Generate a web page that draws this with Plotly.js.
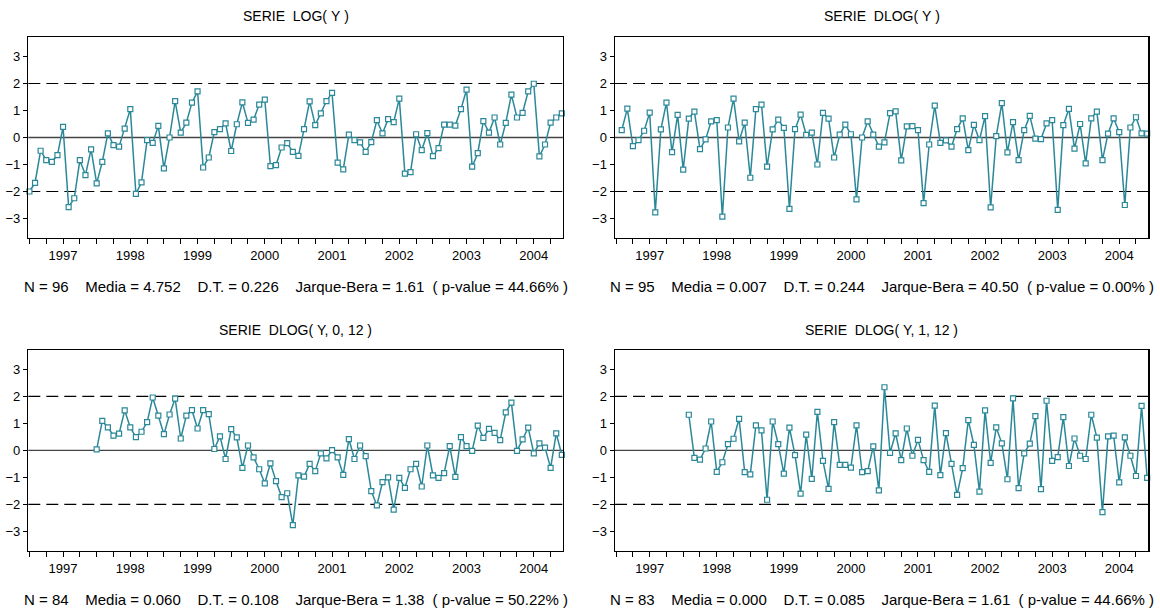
<!DOCTYPE html>
<html><head><meta charset="utf-8">
<script src="https://cdn.plot.ly/plotly-3.0.1.min.js"></script>
<style>html,body{margin:0;padding:0;background:#fff}#chart{width:1160px;height:613px}</style>
</head><body><div id="chart"></div>
<script>
// ---- data ----
const years = ['1997','1998','1999','2000','2001','2002','2003','2004'];
const titles = ['SERIE  LOG( Y )','SERIE  DLOG( Y )','SERIE  DLOG( Y, 0, 12 )','SERIE  DLOG( Y, 1, 12 )'];
// first observation of each series, in months since Jan 1997
const startMonth = [0, 1, 12, 13];

const logY = [-2.00,-1.68,-0.49,-0.84,-0.90,-0.65,0.39,-2.58,-2.25,-0.84,-1.39,-0.44,
  -1.70,-0.90,0.15,-0.28,-0.34,0.33,1.05,-2.09,-1.66,-0.10,-0.20,0.43,
  -1.14,0.00,1.35,0.18,0.55,1.29,1.71,-1.11,-0.74,0.20,0.31,0.52,
  -0.50,0.49,1.30,0.54,0.66,1.22,1.40,-1.06,-1.02,-0.37,-0.21,-0.53,
  -0.68,0.31,1.34,0.46,0.89,1.35,1.65,-0.93,-1.18,0.11,-0.10,-0.18,
  -0.53,-0.17,0.64,0.15,0.68,0.57,1.44,-1.34,-1.28,0.12,-0.47,0.16,
  -0.69,-0.39,0.48,0.48,0.44,1.05,1.77,-1.08,-0.58,0.61,0.18,0.74,
  -0.26,0.54,1.59,0.74,0.91,1.71,1.99,-0.70,-0.26,0.55,0.74,0.89];

const dlogY = [0.27,1.07,-0.32,-0.10,0.25,0.92,-2.77,0.30,1.29,-0.54,0.84,
  -1.19,0.70,0.96,-0.43,-0.07,0.60,0.64,-2.93,0.37,1.44,-0.14,0.55,
  -1.49,1.05,1.22,-1.08,0.30,0.66,0.36,-2.64,0.31,0.85,0.10,0.18,
  -1.00,0.91,0.70,-0.74,0.11,0.48,0.12,-2.29,0.00,0.60,0.11,-0.34,
  -0.18,0.90,0.97,-0.85,0.41,0.42,0.27,-2.43,-0.26,1.18,-0.20,-0.11,
  -0.34,0.31,0.71,-0.47,0.47,-0.10,0.79,-2.59,0.05,1.27,-0.55,0.57,
  -0.84,0.27,0.80,-0.04,-0.06,0.52,0.64,-2.68,0.46,1.06,-0.41,0.50,
  -0.96,0.71,0.96,-0.84,0.14,0.71,0.20,-2.50,0.37,0.75,0.15,0.14];

const dlogY012 = [0.04,1.09,0.85,0.55,0.62,1.48,0.85,0.49,0.69,1.05,1.96,1.29,
  0.60,1.33,1.92,0.44,1.29,1.49,0.81,1.49,1.34,0.05,0.52,-0.32,
  0.79,0.48,-0.65,0.18,-0.26,-0.70,-1.22,-0.48,-1.14,-1.73,-1.59,-2.77,
  -0.93,-0.97,-0.50,-0.77,-0.11,-0.30,0.01,-0.26,-0.91,0.42,-0.32,0.18,
  -0.21,-1.51,-2.04,-1.18,-1.00,-2.20,-1.02,-1.39,-0.70,-0.50,-1.34,0.18,
  -0.93,-1.02,-0.84,0.16,-0.98,0.49,0.16,-0.02,0.92,0.46,0.80,0.65,
  0.38,1.41,1.77,-0.02,0.41,0.84,-0.11,0.26,0.10,-0.65,0.63,-0.17];

const dlogY112 = [1.32,-0.28,-0.34,0.07,1.07,-0.80,-0.44,0.23,0.43,1.17,-0.81,
  -0.89,0.93,0.74,-1.83,1.07,0.23,-0.86,0.84,-0.18,-1.60,0.58,-1.06,
  1.43,-0.39,-1.43,1.05,-0.54,-0.54,-0.64,0.93,-0.81,-0.77,0.15,-1.48,
  2.34,-0.09,0.63,-0.36,0.81,-0.20,0.39,-0.36,-0.80,1.66,-0.92,0.64,
  -0.50,-1.65,-0.66,1.12,0.20,-1.53,1.48,-0.46,0.85,0.26,-1.07,1.93,
  -1.40,-0.11,0.25,1.27,-1.44,1.84,-0.39,-0.25,1.23,-0.58,0.44,-0.20,
  -0.32,1.32,0.47,-2.29,0.52,0.55,-1.19,0.48,-0.20,-0.95,1.65,-1.02];

const statN = ['96','95','84','83'];
const statMedia = ['4.752','0.007','0.060','0.000'];
const statDT = ['0.226','0.244','0.108','0.085'];
const statJB = ['1.61','40.50','1.38','1.61'];
const statP = ['44.66','0.00','50.22','44.66'];

const series = [logY, dlogY, dlogY012, dlogY112];

// ---- layout helpers ----
const FONT = '"Liberation Sans", Arial, Helvetica, sans-serif';
const xDom = [[0.0244,0.4853],[0.5302,0.9899],[0.0244,0.4853],[0.5302,0.9899]];
const yDom = [[0.6118,0.9396],[0.6118,0.9396],[0.1016,0.4290],[0.1016,0.4290]];
const nMonths = years.length * 12;
const qTicks = [];
for (let m = 0; m < nMonths; m += 3) qTicks.push(m);
const qText = qTicks.map(m => (m % 12 === 6) ? years[(m - 6) / 12] : '');
const nb = s => s.replace(/ /g, '\u00a0');

const traces = [];
const layout = {
  width: 1160, height: 613,
  margin: {l: 0, r: 0, t: 0, b: 0},
  paper_bgcolor: '#fff', plot_bgcolor: '#fff',
  showlegend: false,
  font: {family: FONT, size: 13, color: '#000'},
  shapes: [], annotations: []
};

series.forEach((vals, k) => {
  const sx = k === 0 ? '' : String(k + 1);
  traces.push({
    type: 'scatter', mode: 'lines+markers',
    x: vals.map((_, i) => startMonth[k] + i), y: vals,
    xaxis: 'x' + sx, yaxis: 'y' + sx,
    line: {color: '#2a8899', width: 1.5},
    marker: {symbol: 'square', size: 5, color: '#ffffff', line: {color: '#2a8899', width: 1.2}},
    cliponaxis: false, hoverinfo: 'skip'
  });
  layout['xaxis' + sx] = {
    domain: xDom[k], anchor: 'y' + sx, range: [-0.2, nMonths - 1 + 0.2],
    tickmode: 'array', tickvals: qTicks, ticktext: qText,
    ticks: 'outside', ticklen: 5, tickwidth: 1, tickcolor: '#000',
    showline: true, mirror: true, linecolor: '#000', linewidth: 1.5,
    showgrid: false, zeroline: false, fixedrange: true,
    tickfont: {family: FONT, size: 13, color: '#000'}
  };
  layout['yaxis' + sx] = {
    domain: yDom[k], anchor: 'x' + sx, range: [-3.72, 3.72],
    tickmode: 'array', tickvals: [-3,-2,-1,0,1,2,3],
    ticks: 'outside', ticklen: 4, tickwidth: 1, tickcolor: '#000',
    showline: true, mirror: true, linecolor: '#000', linewidth: 1.5,
    showgrid: false, zeroline: false, fixedrange: true,
    tickfont: {family: FONT, size: 13, color: '#000'}
  };
  const xr = 'x' + sx + ' domain';
  layout.shapes.push({type:'line', xref: xr, yref: 'y' + sx, x0: 0, x1: 1, y0: 0, y1: 0,
    line: {color: '#444', width: 1.3}, layer: 'below'});
  [2, -2].forEach(v => layout.shapes.push({type:'line', xref: xr, yref: 'y' + sx, x0: 0, x1: 1, y0: v, y1: v,
    line: {color: '#000', width: 1.2, dash: '12px,6px'}, layer: 'below'}));

  const cx = (xDom[k][0] + xDom[k][1]) / 2;
  const top = k < 2;
  layout.annotations.push({
    xref: 'paper', yref: 'paper', x: cx, y: top ? 1 - 16/613 : 1 - 330/613,
    xanchor: 'center', yanchor: 'middle', showarrow: false,
    text: nb(titles[k]), font: {family: FONT, size: 14, color: '#000'}
  });
  const stat = 'N = ' + statN[k] + '    Media = ' + statMedia[k] + '    D.T. = ' + statDT[k] +
    '    Jarque-Bera = ' + statJB[k] + '  ( p-value = ' + statP[k] + '% )';
  layout.annotations.push({
    xref: 'paper', yref: 'paper', x: cx, y: top ? 1 - 286.5/613 : 1 - 599/613,
    xanchor: 'center', yanchor: 'middle', showarrow: false,
    text: nb(stat), font: {family: FONT, size: 15, color: '#000'}
  });
});

Plotly.newPlot('chart', traces, layout, {staticPlot: true, displayModeBar: false});
</script></body></html>
